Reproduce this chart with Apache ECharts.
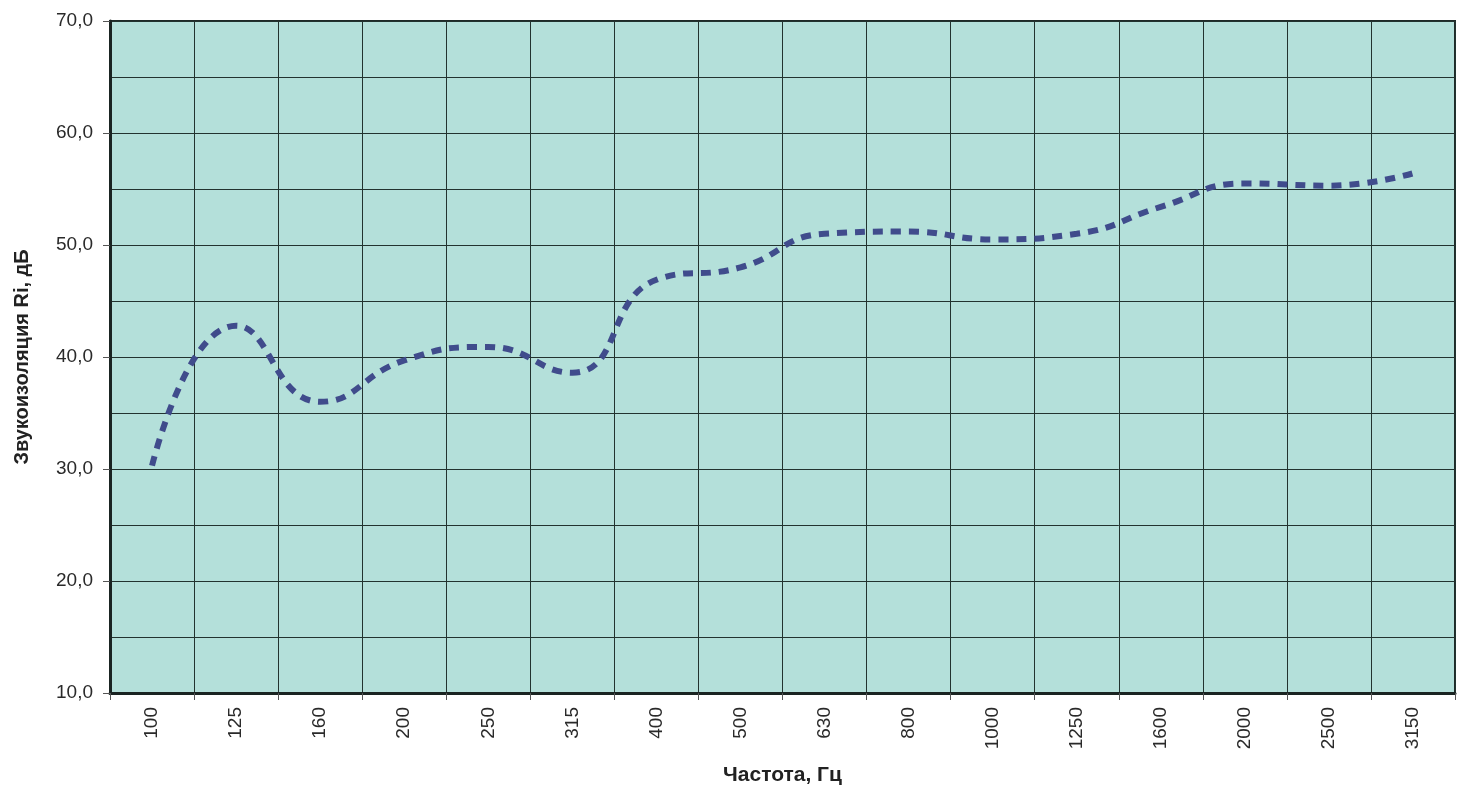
<!DOCTYPE html>
<html>
<head>
<meta charset="utf-8">
<script src="https://cdn.jsdelivr.net/npm/echarts@6/dist/echarts.min.js"></script>
<style>
html,body{margin:0;padding:0;background:#fff;}
#chart{width:1458px;height:795px;}
</style>
</head>
<body>
<div id="chart"></div>
<script>
const categories = ['100','125','160','200','250','315','400','500','630','800','1000','1250','1600','2000','2500','3150'];
const values = [30.3, 42.8, 36.0, 39.7, 40.9, 38.6, 46.9, 48.0, 51.0, 51.2, 50.5, 51.0, 53.4, 55.5, 55.3, 56.4];
const yTicks = {min: 10, max: 70, interval: 10};
const xTitle = 'Частота, Гц';
const yTitle = 'Звукоизоляция Ri, дБ';

const FONT = '"Liberation Sans", Arial, sans-serif';
const chart = echarts.init(document.getElementById('chart'));
chart.setOption({
  animation: false,
  backgroundColor: '#ffffff',
  grid: {
    left: 110, right: 3, top: 21, bottom: 102,
    show: true,
    backgroundColor: '#b4e0da',
    borderColor: '#1f2a28',
    borderWidth: 2
  },
  xAxis: {
    type: 'category',
    data: categories,
    boundaryGap: true,
    name: xTitle,
    nameLocation: 'middle',
    nameGap: 72,
    nameTextStyle: {fontFamily: FONT, fontWeight: 'bold', fontSize: 21, color: '#222'},
    axisLine: {show: true, lineStyle: {color: '#1a2422', width: 3}},
    axisTick: {show: true, alignWithLabel: false, length: 7, lineStyle: {color: '#555', width: 1}},
    axisLabel: {rotate: 90, margin: 14, fontFamily: FONT, fontSize: 19, color: '#2a2a2a', interval: 0},
    splitLine: {show: true, interval: 0, lineStyle: {color: '#22332f', width: 1}}
  },
  yAxis: {
    type: 'value',
    min: yTicks.min, max: yTicks.max, interval: yTicks.interval,
    name: yTitle,
    nameLocation: 'middle',
    nameGap: 78,
    nameTextStyle: {fontFamily: FONT, fontWeight: 'bold', fontSize: 20, color: '#222'},
    axisLine: {show: true, lineStyle: {color: '#1a2422', width: 3}},
    axisTick: {show: true, length: 7, lineStyle: {color: '#555', width: 1}},
    axisLabel: {
      margin: 17, fontFamily: FONT, fontSize: 19, color: '#2a2a2a',
      formatter: v => v.toFixed(1).replace('.', ',')
    },
    splitLine: {show: true, lineStyle: {color: '#22332f', width: 1}},
    minorTick: {show: true, splitNumber: 2, length: 0, lineStyle: {opacity: 0}},
    minorSplitLine: {show: true, lineStyle: {color: '#22332f', width: 1}}
  },
  series: [{
    type: 'line',
    data: values,
    smooth: 0.5,
    symbol: 'none',
    lineStyle: {color: '#404c8c', width: 6, type: [10, 8]}
  }]
});
</script>
</body>
</html>
